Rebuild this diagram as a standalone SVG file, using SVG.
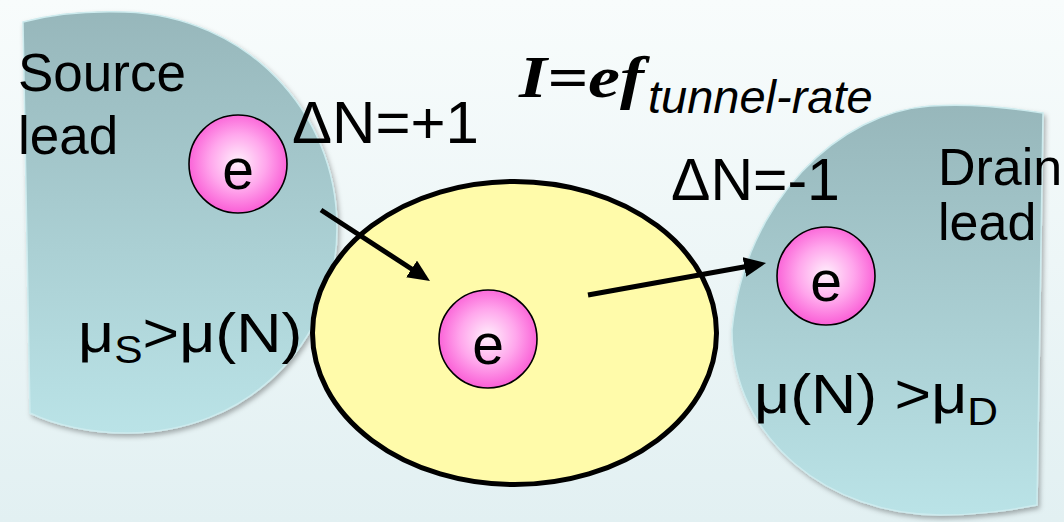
<svg xmlns="http://www.w3.org/2000/svg" width="1064" height="522" viewBox="0 0 1064 522">
  <defs>
    <linearGradient id="bg" x1="0" y1="0" x2="0" y2="1">
      <stop offset="0" stop-color="#f8fcfc"/>
      <stop offset="1" stop-color="#e2f0f2"/>
    </linearGradient>
    <linearGradient id="leadFill" x1="0" y1="0" x2="0" y2="1">
      <stop offset="0" stop-color="#97b7bb"/>
      <stop offset="1" stop-color="#bae3e7"/>
    </linearGradient>
    <radialGradient id="eFill" cx="0.5" cy="0.48" r="0.52">
      <stop offset="0" stop-color="#fff0fc"/>
      <stop offset="0.55" stop-color="#ffa6ec"/>
      <stop offset="1" stop-color="#fa5ed6"/>
    </radialGradient>
    <filter id="shadow" x="-10%" y="-10%" width="125%" height="125%">
      <feDropShadow dx="2" dy="3" stdDeviation="2.5" flood-color="#000" flood-opacity="0.3"/>
    </filter>
    <marker id="arrow" viewBox="0 0 22 20" refX="12" refY="10" markerWidth="22" markerHeight="20" markerUnits="userSpaceOnUse" orient="auto">
      <path d="M0,0 L22,10 L0,20 Z" fill="#000"/>
    </marker>
    <style>
      .lead { fill: url(#leadFill); stroke: #cdebee; stroke-width: 1.5; filter: url(#shadow); }
      .electron circle { fill: url(#eFill); stroke: #000; stroke-width: 1.6; }
      .electron text { font-family: "Liberation Sans", Arial, sans-serif; font-size: 57px; text-anchor: middle; fill: #000; }
      .lbl { font-family: "Liberation Sans", Arial, sans-serif; fill: #000; }
      .conn { stroke: #000; stroke-width: 5; fill: none; marker-end: url(#arrow); }
    </style>
  </defs>

  <rect width="1064" height="522" fill="url(#bg)"/>

  <g id="source-lead">
    <path class="lead" d="M23,22 C60,12 95,11 125,12 C245,16 337,110 337,228 C337,345 245,433 127,433 C90,433 55,425 30,413 Z"/>
    <text class="lbl" font-size="53" x="18" y="91">Source</text>
    <text class="lbl" font-size="53" x="18" y="154">lead</text>
  </g>

  <g id="drain-lead">
    <path class="lead" d="M1043,113 C1000,106 960,104 930,106 C840,112 745,200 732,330 C732,440 830,515 940,515 C980,515 1010,510 1037,505 Z"/>
    <text class="lbl" font-size="52" x="938" y="185">Drain</text>
    <text class="lbl" font-size="52" x="938" y="240">lead</text>
  </g>

  <g id="dot">
    <ellipse cx="514.5" cy="333" rx="202" ry="151.5" fill="#fffbaa" stroke="#000" stroke-width="5"/>
  </g>

  <g id="electron-source" class="electron">
    <circle cx="238" cy="164" r="49"/>
    <text x="238" y="189">e</text>
  </g>
  <g id="electron-dot" class="electron">
    <circle cx="488" cy="339" r="49"/>
    <text x="488" y="364">e</text>
  </g>
  <g id="electron-drain" class="electron">
    <circle cx="826" cy="276" r="49"/>
    <text x="826" y="301">e</text>
  </g>

  <g id="connectors">
    <line class="conn" x1="321" y1="210" x2="421.6" y2="275.5"/>
    <line class="conn" x1="588" y1="295" x2="756.2" y2="264.8"/>
  </g>

  <g id="labels">
    <text class="lbl" font-size="60" x="292" y="143">ΔN=+1</text>
    <text class="lbl" font-size="59" x="671" y="200">ΔN=-1</text>
    <g transform="translate(78,352) scale(1.12,1)">
      <text class="lbl" font-size="56" x="0" y="0">μ<tspan font-size="38" dy="11">S</tspan><tspan dy="-11">&gt;μ(N)</tspan></text>
    </g>
    <g transform="translate(754,413) scale(1.12,1)">
      <text class="lbl" font-size="56" x="0" y="0">μ(N) &gt;μ<tspan font-size="38" dy="12">D</tspan></text>
    </g>
    <g transform="translate(519,97) scale(1.2,1)">
      <text x="0" y="0" font-family="'Liberation Serif', 'Times New Roman', serif" font-weight="bold" font-style="italic" font-size="60" fill="#000">I=ef</text>
    </g>
    <text class="lbl" x="648" y="113" font-size="47" font-style="italic">tunnel-rate</text>
  </g>
</svg>
